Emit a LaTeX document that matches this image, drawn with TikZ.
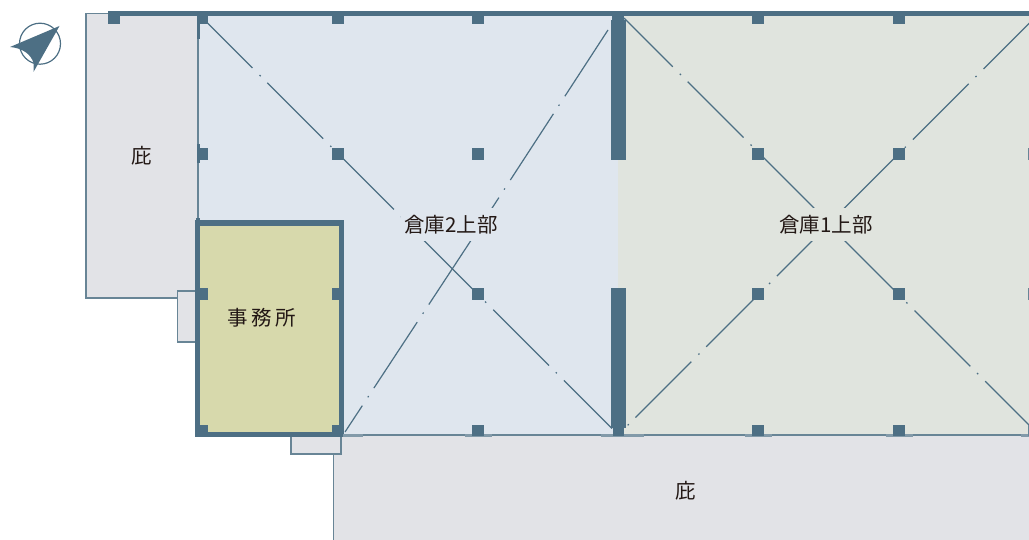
\documentclass[tikz,border=0pt]{standalone}
\usepackage{fontspec}
\setmainfont{Noto Sans CJK JP}
\definecolor{wallc}{HTML}{4D6F84}
\definecolor{eavec}{HTML}{E2E3E7}
\definecolor{bluec}{HTML}{DFE6EE}
\definecolor{greenc}{HTML}{E0E4DE}
\definecolor{officec}{HTML}{D7D9AC}
\definecolor{textc}{HTML}{231815}
\tikzset{
    outline/.style={draw=wallc!85!white, line width=1.3pt},
    diagline/.style={draw=wallc, line width=1.2pt, dash pattern=on 79pt off 10pt on 1.5pt off 9.5pt},
    roomlabel/.style={font=\fontsize{20.5}{20.5}\selectfont, text=textc, inner xsep=3pt, inner ysep=0pt, minimum height=33pt},
    plainlabel/.style={font=\fontsize{20.5}{20.5}\selectfont, text=textc}
}
\begin{document}
\begin{tikzpicture}[x=1pt,y=-1pt]
    \useasboundingbox (0,0) rectangle (1029,540);
    % eaves and rooms
    \fill[eavec, outline] (86,13.5) rectangle (198,298);
    \fill[eavec, outline] (333.5,541) -- (333.5,435) -- (1030,435) -- (1030,541);
    \fill[bluec] (198,16) rectangle (618,435);
    \fill[greenc] (618,16) rectangle (1029,435);
    \fill[eavec, outline] (177.7,291) rectangle (198,342);
    \fill[eavec, outline] (291,435) rectangle (341,454);
    \draw[outline] (198,16) -- (198,223);
    \draw[outline] (333.5,435) -- (1029,435);
    % diagonals, each half starts at its own end
    \draw[diagline] (608,30) -- (476.5,232);
    \draw[diagline, dash phase=47.5pt] (345,432) -- (476.5,232);
    \draw[diagline, dash phase=9pt] (203,18.5) -- (408,223.5);
    \draw[diagline, dash phase=11pt] (612,428.5) -- (407,223.5);
    \draw[diagline, dash phase=10pt] (624,18) -- (826,220);
    \draw[diagline, dash phase=7pt] (1034.5,18) -- (826,226.5);
    \draw[diagline, dash phase=10pt] (1034,430) -- (826,222);
    \draw[diagline, dash phase=89pt] (627.7,425.3) -- (826,227);
    \node[roomlabel, fill=bluec] (store2) at (451,224.8) {倉庫2上部};
    \node[roomlabel, fill=greenc] (store1) at (826,224.8) {倉庫1上部};
    % office
    \fill[officec] (198,223) rectangle (341,435);
    \draw[wallc, line width=5.2pt] (197.8,223) rectangle (341.2,434.8);
    \fill[wallc] (195.5,218) rectangle (200,225);
    % walls
    \fill[wallc] (108,11) rectangle (1029,16);
    \fill[wallc] (611,20.5) rectangle (626,160);
    \fill[wallc] (611,288) rectangle (626,428);
    \fill[wallc!70!white] (601,433.5) rectangle (644,436.5);
    \fill[wallc!70!white] (343,433.5) rectangle (363,436.5);
    % columns
    \foreach \x in {338, 478, 618, 758, 899} {
        \fill[wallc] (\x-6,16) rectangle (\x+6,24);
    }
    \fill[wallc] (108,16) rectangle (120,24);
    \fill[wallc] (197,16) rectangle (208,24);
    \fill[wallc] (197,16) rectangle (199.5,39);
    \foreach \x in {338, 478, 758, 899} {
        \foreach \y in {154, 294} {
            \fill[wallc] (\x-6,\y-6) rectangle (\x+6,\y+6);
        }
    }
    \fill[wallc] (197,148) rectangle (208,160);
    \fill[wallc] (197,144) rectangle (199.5,163);
    \fill[wallc] (197,288) rectangle (208,300);
    \fill[wallc] (332,288) rectangle (343,300);
    \fill[wallc!85!white] (1028,148) rectangle (1029,160);
    \fill[wallc!85!white] (1028,288) rectangle (1029,300);
    \foreach \x in {478, 758, 899} {
        \fill[wallc!70!white] (\x-13.5,433.5) rectangle (\x+13.5,436.5);
        \fill[wallc] (\x-6,425) rectangle (\x+6,436);
    }
    \fill[wallc] (613,425) rectangle (624,436);
    \fill[wallc!70!white] (1021,433.5) rectangle (1029,436.5);
    \fill[wallc!85!white] (1028,425) rectangle (1029,436);
    \fill[wallc] (197,425) rectangle (208,436);
    \fill[wallc] (332,425) rectangle (343,436);
    % labels
    \node[plainlabel] (eaveleft) at (142,156) {庇};
    \node[plainlabel] (eavebottom) at (686,491) {庇};
    \node[plainlabel] (office) at (262,318) {事\hspace{3.5pt}務\hspace{3.5pt}所};
    % compass
    \draw[wallc, line width=1.2pt] (40,43.7) circle (20.5);
    \fill[wallc] (59.5,26) -- (10,47) .. controls (22,48) and (31,54) .. (33.5,63) -- (33.5,72) -- cycle;
\end{tikzpicture}
\end{document}
